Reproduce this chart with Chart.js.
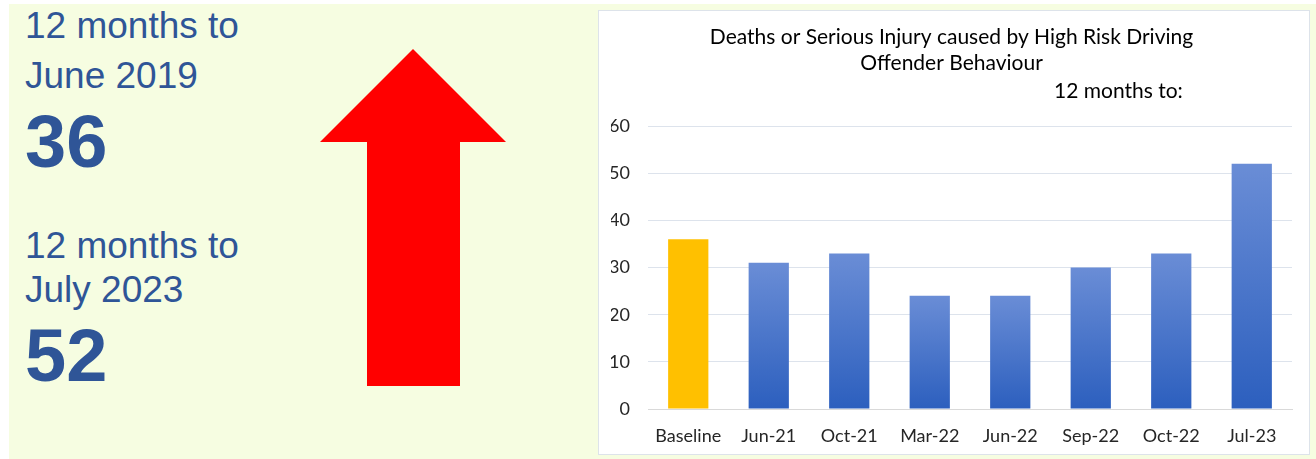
<!DOCTYPE html>
<html>
<head>
<meta charset="utf-8">
<script src="https://cdn.jsdelivr.net/npm/chart.js@4"></script>
<style>
  html, body { margin: 0; padding: 0; background: #ffffff; }
  body { width: 1316px; height: 459px; position: relative; overflow: hidden; }
  #panel { position: absolute; left: 9px; top: 4px; width: 1307px; height: 455px; background: #f6fde1; }
  .txt { position: absolute; left: 25px; color: #2f5597; font-family: "Liberation Sans", Arial, sans-serif; white-space: nowrap; }
  .small { font-size: 37px; line-height: 37px; }
  .big { font-size: 74px; font-weight: bold; line-height: 74px; }
  #arrow { position: absolute; left: 320px; top: 49px; }
  #box { position: absolute; left: 598px; top: 10px; width: 712px; height: 445px; box-sizing: border-box;
         background: #ffffff; border: 1px solid #dde3ea; }
  #wrap { position: absolute; left: 0; top: 0; width: 710px; height: 443px; }
</style>
</head>
<body>
<div id="panel"></div>
<div class="txt small" style="top:7px">12 months to</div>
<div class="txt small" style="top:57px">June 2019</div>
<div class="txt big" style="top:105px">36</div>
<div class="txt small" style="top:227px">12 months to</div>
<div class="txt small" style="top:271px">July 2023</div>
<div class="txt big" style="top:319px">52</div>
<svg id="arrow" width="186" height="337" viewBox="0 0 186 337">
  <polygon points="93,0 186,93 140,93 140,337 47,337 47,93 0,93" fill="#ff0000"/>
</svg>
<div id="box"><div id="wrap"><canvas id="myChart"></canvas></div></div>
<script>
// Adatok
const categories = ['Baseline', 'Jun-21', 'Oct-21', 'Mar-22', 'Jun-22', 'Sep-22', 'Oct-22', 'Jul-23'];
const values = [36, 31, 33, 24, 24, 30, 33, 52];
const titleLines = ['Deaths or Serious Injury caused by High Risk Driving', 'Offender Behaviour'];
const subTitle = '12 months to:';

const fontFamily = 'Lato, "Open Sans", sans-serif';

// Oszlop szín: első sárga, többi kék színátmenet
function barColor(ctx) {
    if (ctx.dataIndex === 0) return '#ffc000';
    const chart = ctx.chart;
    const y = chart.scales.y;
    if (!chart.chartArea || !y) return '#4472c4';
    const top = y.getPixelForValue(values[ctx.dataIndex]);
    const bottom = y.getPixelForValue(0);
    const g = chart.ctx.createLinearGradient(0, top, 0, bottom);
    g.addColorStop(0, '#6a8dd6');
    g.addColorStop(1, '#2c5fbe');
    return g;
}

// "12 months to:" felirat
const subLabel = {
    id: 'subLabel',
    afterDraw(chart) {
        const c = chart.ctx;
        c.save();
        c.font = '21px ' + fontFamily;
        c.fillStyle = '#000000';
        c.textAlign = 'left';
        c.textBaseline = 'middle';
        c.fillText(subTitle, 455, 80);
        c.restore();
    }
};

const ctx = document.getElementById('myChart').getContext('2d');
const myChart = new Chart(ctx, {
    type: 'bar',
    data: {
        labels: categories,
        datasets: [{
            data: values,
            backgroundColor: barColor,
            borderWidth: 0,
            barPercentage: 0.5,
            categoryPercentage: 1
        }]
    },
    options: {
        responsive: true,
        maintainAspectRatio: false,
        animation: false,
        layout: { padding: { left: 12, right: 17, top: 0, bottom: 5 } },
        plugins: {
            legend: { display: false },
            tooltip: { enabled: false },
            title: {
                display: true,
                text: titleLines,
                color: '#000000',
                font: { family: fontFamily, size: 21, weight: 'normal', lineHeight: 1.24 },
                padding: { top: 13, bottom: 50 }
            }
        },
        scales: {
            x: {
                grid: { display: false, drawTicks: false },
                border: { display: true, color: '#d9d9d9', width: 1 },
                ticks: { color: '#262626', font: { family: fontFamily, size: 18 }, padding: 16 },
                afterFit(scale) { scale.height = 40; }
            },
            y: {
                min: 0,
                max: 60,
                ticks: { stepSize: 10, color: '#262626', font: { family: fontFamily, size: 18 }, padding: 18 },
                grid: { color: '#dde3ec', lineWidth: 1, drawTicks: false },
                border: { display: false },
                afterFit(scale) { scale.width = 37; }
            }
        }
    },
    plugins: [subLabel]
});
</script>
</body>
</html>
